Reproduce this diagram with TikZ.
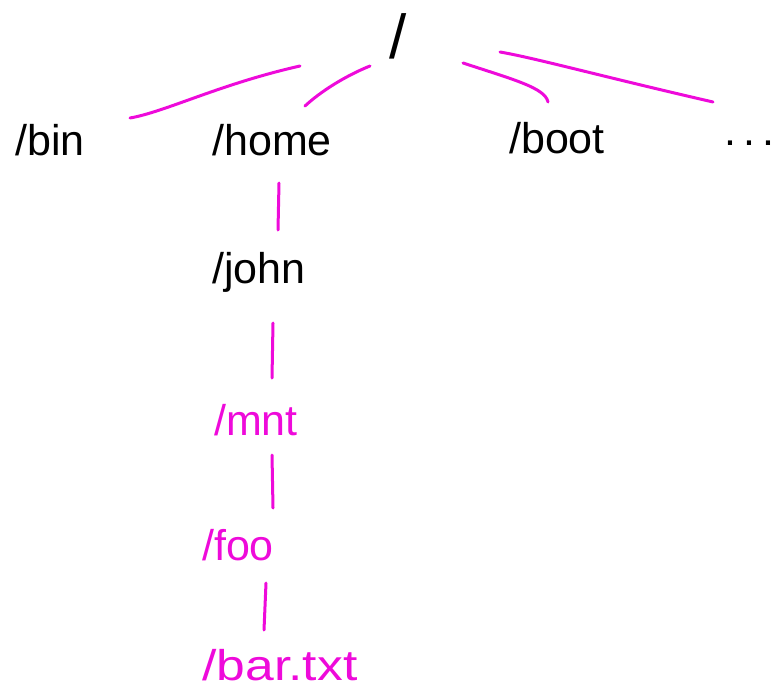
\documentclass[tikz,border=0pt]{standalone}
\usepackage{fontspec}
\setmainfont{Liberation Sans}
\definecolor{mag}{RGB}{238,10,218}
\begin{document}
\begin{tikzpicture}[x=1pt,y=-1pt,
  lbl/.style={font=\fontsize{43}{45}\selectfont, inner sep=0pt},
  blk/.style={lbl, text=black},
  pnk/.style={lbl, text=mag},
  conn/.style={draw=mag, line width=3pt, line cap=round}]
\useasboundingbox (0,0) rectangle (778,690);
\node[blk, font=\fontsize{62}{64}\selectfont] (root) at (398,36) {/};
\node[blk] (bin)  at (50,140)  {/bin};
\node[blk] (home) at (272,140) {/home};
\node[blk] (boot) at (557,138) {/boot};
\node[blk, anchor=east] (more) at (775,143) {.\,.\,.};
\node[blk] (john) at (259,272) {/john};
\node[pnk] (mnt)  at (256,420) {/mnt};
\node[pnk] (foo)  at (238,545) {/foo};
\node[pnk, xscale=1.2] (bar)  at (280,665) {/bar.txt};
% connector endpoints
\coordinate (r1) at (300,66);  \coordinate (b1) at (130,118);
\coordinate (r2) at (370,66);  \coordinate (h1) at (305,106);
\coordinate (r3) at (463,63);  \coordinate (o1) at (548,102);
\coordinate (r4) at (500,52);  \coordinate (m1) at (713,102);
\coordinate (h2) at (279,183); \coordinate (j1) at (278,230);
\coordinate (j2) at (273,323); \coordinate (n1) at (272,378);
\coordinate (n2) at (272,455); \coordinate (f1) at (273,508);
\coordinate (f2) at (266,583); \coordinate (t1) at (264,630);
\draw[conn] (r1) .. controls (220,84) and (165,112) .. (b1);
\draw[conn] (r2) .. controls (345,76) and (320,92) .. (h1);
\draw[conn] (r3) .. controls (515,80) and (545,88) .. (o1);
\draw[conn] (r4) .. controls (535,58) and (600,76) .. (m1);
\draw[conn] (h2) -- (j1);
\draw[conn] (j2) -- (n1);
\draw[conn] (n2) -- (f1);
\draw[conn] (f2) -- (t1);
\end{tikzpicture}
\end{document}
